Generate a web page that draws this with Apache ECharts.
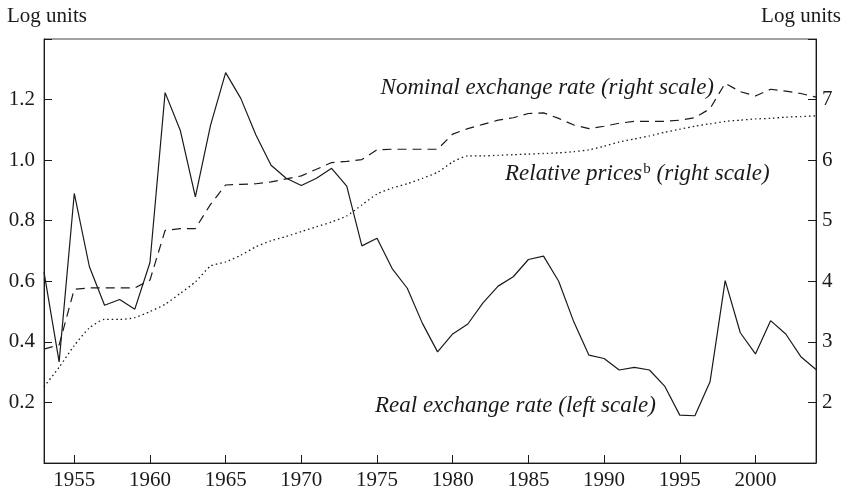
<!DOCTYPE html>
<html>
<head>
<meta charset="utf-8" />
<script src="https://cdn.jsdelivr.net/npm/echarts@6/dist/echarts.min.js"></script>
<title>Exchange rates</title>
<style>
  html, body { margin: 0; padding: 0; background: #fff; }
  #main { width: 842px; height: 493px; }
</style>
</head>
<body>
<div id="main"></div>
<script type="text/javascript">
var years = ['1953','1954','1955','1956','1957','1958','1959','1960','1961','1962',
             '1963','1964','1965','1966','1967','1968','1969','1970','1971','1972',
             '1973','1974','1975','1976','1977','1978','1979','1980','1981','1982',
             '1983','1984','1985','1986','1987','1988','1989','1990','1991','1992',
             '1993','1994','1995','1996','1997','1998','1999','2000','2001','2002',
             '2003','2004'];

// left scale
var realRate = [0.63, 0.334, 0.89, 0.648, 0.521, 0.540, 0.508, 0.662, 1.223, 1.099,
                0.879, 1.115, 1.289, 1.204, 1.083, 0.983, 0.94, 0.916, 0.94, 0.973,
                0.914, 0.717, 0.742, 0.642, 0.577, 0.461, 0.367, 0.426, 0.459, 0.529,
                0.584, 0.615, 0.672, 0.683, 0.600, 0.466, 0.356, 0.345, 0.307, 0.316,
                0.307, 0.254, 0.158, 0.156, 0.268, 0.602, 0.43, 0.36, 0.47, 0.426,
                0.351, 0.309];

// right scale
var nominalRate = [2.88, 2.95, 3.87, 3.89, 3.89, 3.89, 3.89, 4.02, 4.84, 4.87,
                   4.87, 5.27, 5.59, 5.60, 5.61, 5.64, 5.69, 5.74, 5.85, 5.96,
                   5.98, 6.01, 6.17, 6.18, 6.18, 6.18, 6.18, 6.43, 6.52, 6.59,
                   6.66, 6.70, 6.77, 6.78, 6.69, 6.58, 6.52, 6.56, 6.61, 6.64,
                   6.64, 6.64, 6.66, 6.70, 6.85, 7.27, 7.13, 7.06, 7.17, 7.14,
                   7.10, 7.04];

var relPrices = [2.26, 2.58, 2.94, 3.23, 3.37, 3.37, 3.40, 3.50, 3.62, 3.80,
                 3.99, 4.25, 4.32, 4.43, 4.57, 4.67, 4.74, 4.82, 4.90, 4.98,
                 5.08, 5.26, 5.44, 5.54, 5.61, 5.70, 5.80, 5.97, 6.07, 6.07,
                 6.08, 6.09, 6.10, 6.11, 6.12, 6.14, 6.17, 6.23, 6.30, 6.35,
                 6.40, 6.46, 6.51, 6.56, 6.60, 6.64, 6.66, 6.68, 6.69, 6.71,
                 6.72, 6.73];

var FONT = "'Liberation Serif', 'Times New Roman', serif";
var INK = '#1a1a1a';

var myChart = echarts.init(document.getElementById('main'));

function everyFive(idx, val) {
    return Number(val) % 5 === 0;
}

var option = {
    animation: false,
    backgroundColor: '#fff',
    grid: {
        left: 44,
        right: 26,
        top: 39,
        bottom: 30,
        show: true,
        borderColor: '#444',
        borderWidth: 1
    },
    xAxis: {
        type: 'category',
        data: years,
        boundaryGap: false,
        axisLine: { lineStyle: { color: INK, width: 1 } },
        axisTick: { inside: true, length: 8, interval: everyFive, lineStyle: { color: INK } },
        axisLabel: { interval: everyFive, color: INK, fontFamily: FONT, fontSize: 21, margin: 7 },
        splitLine: { show: false }
    },
    yAxis: [
        {
            type: 'value',
            min: 0,
            max: 1.4,
            interval: 0.2,
            axisLine: { show: true, lineStyle: { color: INK } },
            axisTick: { show: true, inside: true, length: 8, lineStyle: { color: INK } },
            axisLabel: {
                color: INK, fontFamily: FONT, fontSize: 21, margin: 9,
                formatter: function (v) {
                    if (v < 0.1 || v > 1.3) return '';
                    return v.toFixed(1);
                }
            },
            splitLine: { show: false }
        },
        {
            type: 'value',
            min: 1,
            max: 8,
            interval: 1,
            position: 'right',
            axisLine: { show: true, lineStyle: { color: INK } },
            axisTick: { show: true, inside: true, length: 8, lineStyle: { color: INK } },
            axisLabel: {
                color: INK, fontFamily: FONT, fontSize: 21, margin: 6,
                formatter: function (v) {
                    if (v < 1.5 || v > 7.5) return '';
                    return String(v);
                }
            },
            splitLine: { show: false }
        }
    ],
    series: [
        {
            name: 'Real exchange rate',
            type: 'line',
            yAxisIndex: 0,
            data: realRate,
            symbol: 'none',
            lineStyle: { color: INK, width: 1.2, type: 'solid' }
        },
        {
            name: 'Nominal exchange rate',
            type: 'line',
            yAxisIndex: 1,
            data: nominalRate,
            symbol: 'none',
            lineStyle: { color: INK, width: 1.2, type: [9, 6] }
        },
        {
            name: 'Relative prices',
            type: 'line',
            yAxisIndex: 1,
            data: relPrices,
            symbol: 'none',
            smooth: 0.2,
            lineStyle: { color: INK, width: 1.3, type: [1.5, 3] }
        }
    ],
    graphic: [
        {
            type: 'text', x: 7, y: 16,
            style: { text: 'Log units', fill: INK, font: '21px ' + FONT, textVerticalAlign: 'middle' }
        },
        {
            type: 'text', x: 841, y: 16,
            style: { text: 'Log units', fill: INK, font: '21px ' + FONT, textAlign: 'right', textVerticalAlign: 'middle' }
        },
        {
            type: 'text', x: 714, y: 88,
            style: {
                text: 'Nominal exchange rate (right scale)', fill: INK,
                font: 'italic 23px ' + FONT, textAlign: 'right', textVerticalAlign: 'middle'
            }
        },
        {
            type: 'text', x: 505, y: 174,
            style: {
                text: '{t|Relative prices}{s|b}{t| (right scale)}',
                fill: INK,
                textVerticalAlign: 'middle',
                rich: {
                    t: { font: 'italic 23px ' + FONT, fill: INK },
                    s: { font: '15px ' + FONT, fill: INK, verticalAlign: 'top', padding: [0, 0, 9, 1] }
                }
            }
        },
        {
            type: 'text', x: 375, y: 406,
            style: {
                text: 'Real exchange rate (left scale)', fill: INK,
                font: 'italic 23px ' + FONT, textVerticalAlign: 'middle'
            }
        }
    ]
};
myChart.setOption(option);
</script>
</body>
</html>
